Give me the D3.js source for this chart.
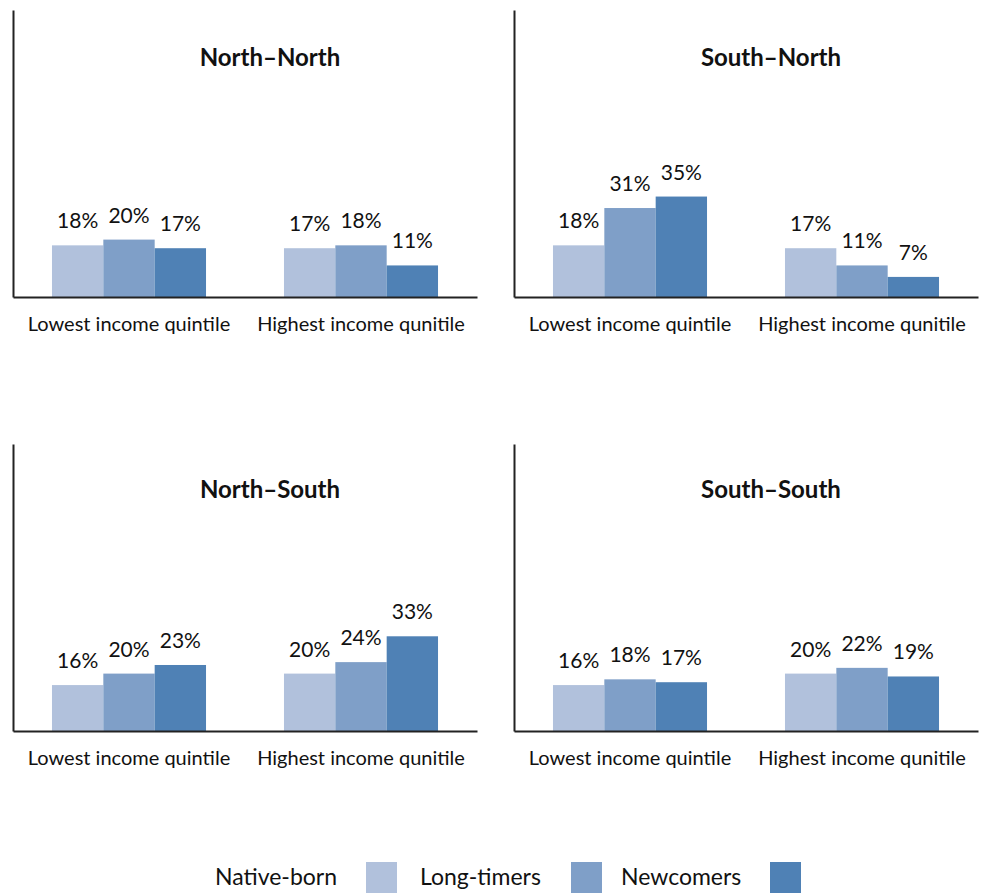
<!DOCTYPE html>
<html lang="en">
<head>
<meta charset="utf-8">
<title>Income quintile by migration corridor</title>
<script src="https://cdn.jsdelivr.net/npm/d3@7"></script>
<style>
  body { margin: 0; background: #fff; }
  text { font-family: Lato, "Open Sans", sans-serif; fill: #111; }
</style>
</head>
<body>
<div id="chart"></div>
<script>

// data
var panelTitles = ["North\u2013North", "South\u2013North", "North\u2013South", "South\u2013South"];
var quintiles = ["Lowest income quintile", "Highest income qunitile"];
var seriesNames = ["Native-born", "Long-timers", "Newcomers"];
var nativeBorn = [[18, 17], [18, 17], [16, 20], [16, 20]];
var longTimers = [[20, 18], [31, 11], [20, 24], [18, 22]];
var newcomers  = [[17, 11], [35, 7], [23, 33], [17, 19]];

var colors = ["#b1c1dc", "#7f9fc8", "#4f81b5"];

var W = 986, H = 895;
var plotW = 464, plotH = 287;
// top-left corner of each panel's plot area
var origins = [[13, 10], [514, 10], [13, 444], [514, 444]];

var svg = d3.select("#chart").append("svg")
    .attr("width", W)
    .attr("height", H);

var x0 = d3.scaleBand()
    .domain(quintiles)
    .range([0, plotW])
    .paddingInner(0.336)
    .paddingOuter(0.168);

var x1 = d3.scaleBand()
    .domain(seriesNames)
    .range([0, x0.bandwidth()]);

var y = d3.scaleLinear()
    .domain([0, 100])
    .range([plotH, 0]);

var color = d3.scaleOrdinal().domain(seriesNames).range(colors);

panelTitles.forEach(function(title, p) {
  var g = svg.append("g")
      .attr("transform", "translate(" + origins[p][0] + "," + origins[p][1] + ")");

  var rows = quintiles.map(function(q, i) {
    return {
      q: q,
      vals: [
        {s: seriesNames[0], v: nativeBorn[p][i]},
        {s: seriesNames[1], v: longTimers[p][i]},
        {s: seriesNames[2], v: newcomers[p][i]}
      ]
    };
  });

  var groups = g.selectAll(".grp")
      .data(rows)
      .enter()
      .append("g")
      .attr("class", "grp")
      .attr("transform", function(d) { return "translate(" + x0(d.q) + ",0)"; });

  groups.selectAll("rect")
      .data(function(d) { return d.vals; })
      .enter()
      .append("rect")
      .attr("x", function(d) { return x1(d.s); })
      .attr("y", function(d) { return y(d.v); })
      .attr("width", x1.bandwidth())
      .attr("height", function(d) { return plotH - y(d.v); })
      .style("fill", function(d) { return color(d.s); });

  groups.selectAll(".lbl")
      .data(function(d) { return d.vals; })
      .enter()
      .append("text")
      .attr("class", "lbl")
      .attr("x", function(d) { return x1(d.s) + x1.bandwidth() / 2; })
      .attr("y", function(d) { return y(d.v) - 17; })
      .attr("text-anchor", "middle")
      .style("font-size", "21px")
      .text(function(d) { return d.v + "%"; });

  // axes: only the lines and the category names
  var xAxis = g.append("g")
      .attr("transform", "translate(0," + plotH + ")")
      .call(d3.axisBottom(x0).tickSize(0).tickPadding(20));
  xAxis.select(".domain").attr("stroke", "#222").attr("stroke-width", 2);
  xAxis.selectAll("text").style("font-size", "20px").style("font-family", "Lato, sans-serif").attr("fill", "#111");

  var yAxis = g.append("g")
      .call(d3.axisLeft(y).tickValues([]).tickSizeOuter(0));
  yAxis.select(".domain").attr("stroke", "#222").attr("stroke-width", 2);

  g.append("text")
      .attr("x", 257)
      .attr("y", p < 2 ? 56 : 54)
      .attr("text-anchor", "middle")
      .style("font-size", "24px")
      .style("font-weight", "bold")
      .text(title);
});

// legend: name first, swatch after it
var legendX = [215, 420, 621];
var swatchX = [366, 571, 770];
var legend = svg.selectAll(".legend")
    .data(seriesNames)
    .enter()
    .append("g")
    .attr("class", "legend");

legend.append("text")
    .attr("x", function(d, i) { return legendX[i]; })
    .attr("y", 885)
    .style("font-size", "23px")
    .text(function(d) { return d; });

legend.append("rect")
    .attr("x", function(d, i) { return swatchX[i]; })
    .attr("y", 862)
    .attr("width", 31)
    .attr("height", 31)
    .style("fill", function(d) { return color(d); });

</script>
</body>
</html>
